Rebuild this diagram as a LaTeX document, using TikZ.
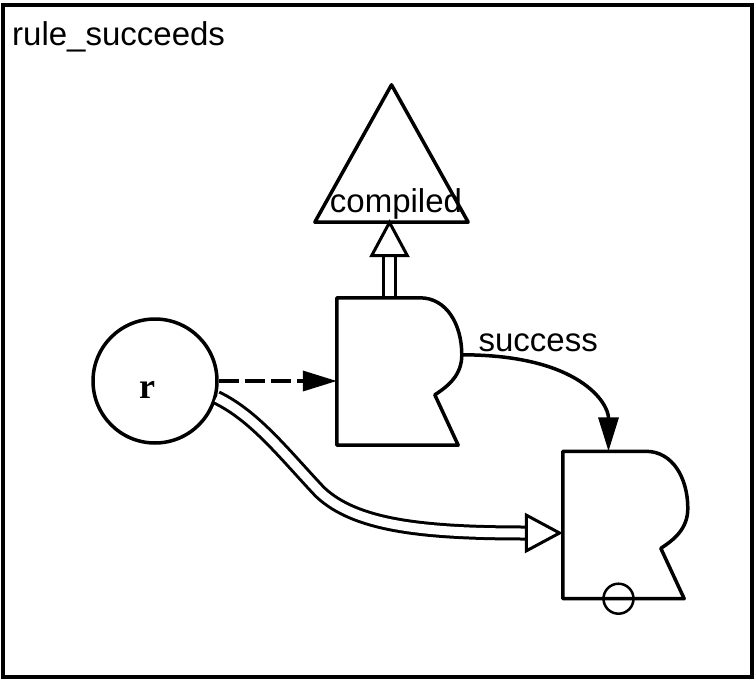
\documentclass[tikz,border=0pt]{standalone}
\usepackage{fontspec}
\setmainfont{Liberation Sans}
\newfontfamily\varFont{Liberation Serif}
\usepackage{tikz}
\usetikzlibrary{
    arrows.meta,
    positioning,
    calc
}

% outline of a test box: flat top, round bulge, notch, slanted foot
\newcommand{\testOutline}[1]{%
    \draw[outlineLine] (#1.north west) -- ([xshift=83pt]#1.north west)
        .. controls ([xshift=110pt]#1.north west) and ([xshift=125pt,yshift=-27pt]#1.north west)
        .. ([xshift=125pt,yshift=-57pt]#1.north west)
        .. controls ([xshift=125pt,yshift=-77pt]#1.north west) and ([xshift=112pt,yshift=-88pt]#1.north west)
        .. ([xshift=98pt,yshift=-97pt]#1.north west)
        -- (#1.south east) -- (#1.south west) -- cycle;
}

\begin{document}
\begin{tikzpicture}[
    x=1pt, y=-1pt,
    testNode/.style={
        rectangle, inner sep=0pt,
        minimum width=121pt, minimum height=147pt
    },
    goalNode/.style={
        rectangle, inner sep=0pt,
        minimum width=153pt, minimum height=137pt
    },
    varNode/.style={
        circle, draw, line width=3.5pt,
        inner sep=0pt, minimum size=124pt
    },
    negNode/.style={
        circle, draw, line width=2.5pt,
        inner sep=0pt, minimum size=30pt
    },
    outlineLine/.style={
        line width=3.5pt, line join=round
    },
    labelNode/.style={
        font=\fontsize{33}{40}\selectfont, inner sep=0pt
    },
    flowArrow/.style={
        -{Triangle[length=34pt, width=20pt]}, line width=3.5pt
    },
    doubleArrow/.style={
        -{Triangle[open, length=38pt, width=40pt, line width=3pt]},
        double, double distance=9pt, line width=3pt
    }
]

    \useasboundingbox (0,0) rectangle (755,680);

    % Frame and title
    \draw[line width=3.5pt] (3,5) rectangle (752,677);
    \node[labelNode, anchor=base west] (title) at (12,45) {rule\_succeeds};

    % Variable
    \node[varNode] (r) at (155,381) {};
    \node[labelNode, font=\fontsize{36}{40}\selectfont\varFont\bfseries] (rLbl) at (147,390) {r};

    % Goal triangle
    \node[goalNode] (goal) at (391.5,153.5) {};
    \draw[outlineLine] (goal.north) -- (goal.south east) -- (goal.south west) -- cycle;
    \node[labelNode, anchor=base] (compiledLbl) at (396,212) {compiled};

    % Test boxes
    \node[testNode] (test) at (397.5,371.5) {};
    \node[testNode] (check) at (623.5,525) {};

    % Connectors
    \draw[flowArrow, dash pattern=on 20pt off 6pt] (r.east) -- (r.east -| test.west);

    \draw[doubleArrow] ([xshift=-8pt]test.north) -- ([xshift=-8pt, yshift=3pt]test.north |- goal.south);

    \draw[flowArrow] ([xshift=125pt,yshift=-57pt]test.north west)
        .. controls +(118,0) and +(0,-48) .. ([xshift=-15pt]check.north)
        node[labelNode, at start, anchor=base west, xshift=15pt, yshift=3pt] (successLbl) {success};

    \draw[doubleArrow] (r.-15)
        .. controls (255,416) and (285,455) .. (320,492)
        .. controls (355,525) and (420,533) .. ([yshift=-8pt]check.west);

    % Outlines on top of the connector ends
    \testOutline{test}
    \testOutline{check}
    \node[negNode] (neg) at ([xshift=-5pt]check.south) {};

\end{tikzpicture}
\end{document}
